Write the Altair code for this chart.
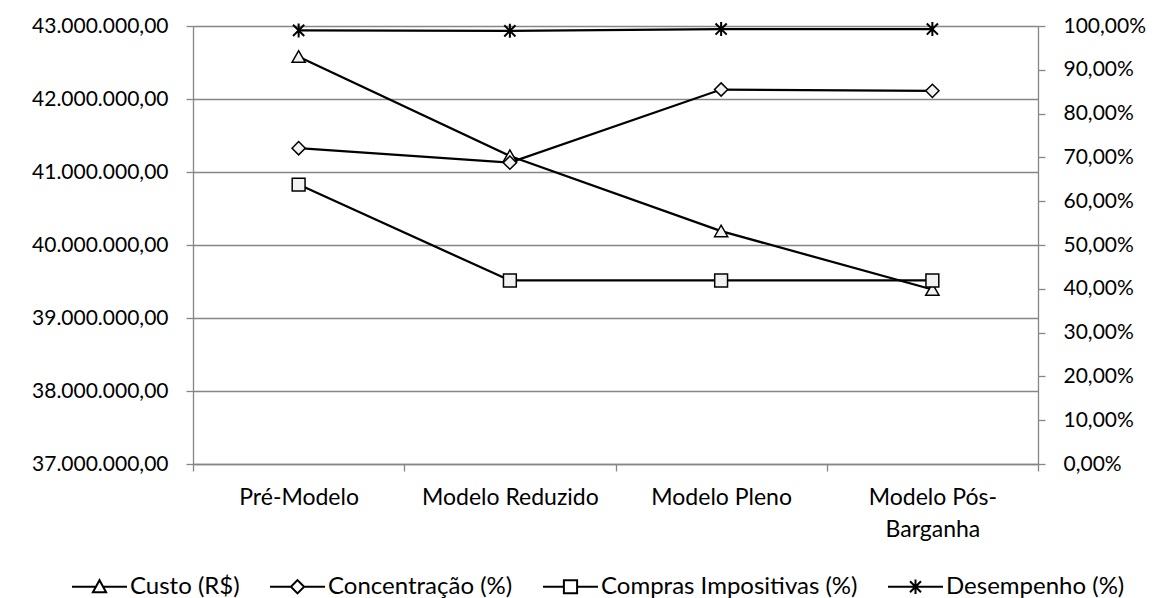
import altair as alt
import pandas as pd

# Cenários avaliados
categorias = ["Pré-Modelo", "Modelo Reduzido", "Modelo Pleno", "Modelo Pós-Barganha"]

# Custo total (R$) - eixo da esquerda
custo = [42580000, 41220000, 40190000, 39390000]

# Indicadores percentuais - eixo da direita
concentracao = [0.721, 0.688, 0.855, 0.852]
compras_impositivas = [0.638, 0.419, 0.419, 0.419]
desempenho = [0.990, 0.989, 0.993, 0.993]

series = ["Custo (R$)", "Concentração (%)", "Compras Impositivas (%)", "Desempenho (%)"]

ticks_custo = [37000000, 38000000, 39000000, 40000000, 41000000, 42000000, 43000000]
ticks_pct = [i / 10 for i in range(11)]

FONT = "Lato"
GRAY = "#868686"
FILL = "#f2f2f2"

df_custo = pd.DataFrame({"categoria": categorias, "idx": range(4), "valor": custo})
df_pct = pd.concat(
    [
        pd.DataFrame({"categoria": categorias, "idx": range(4), "serie": nome, "valor": vals})
        for nome, vals in [
            ("Concentração (%)", concentracao),
            ("Compras Impositivas (%)", compras_impositivas),
            ("Desempenho (%)", desempenho),
        ]
    ],
    ignore_index=True,
)
df_legenda = pd.DataFrame({"serie": series})

x_scale = alt.Scale(type="band", paddingInner=0, paddingOuter=0)
x_axis = alt.Axis(
    title=None,
    labelAngle=0,
    tickBand="extent",
    domain=True,
    ticks=True,
    tickSize=7,
    labelPadding=15,
    labelFontSize=23,
    labelLineHeight=32,
    labelLimit=300,
    grid=False,
    labelExpr="datum.label == 'Modelo Pós-Barganha' ? ['Modelo Pós-', 'Barganha'] : datum.label",
)


def x_enc():
    return alt.X("categoria:N", sort=categorias, scale=x_scale, bandPosition=0.5, axis=x_axis)


custo_scale = alt.Scale(domain=[37000000, 43000000], nice=False, zero=False)
custo_axis = alt.Axis(
    orient="left",
    title=None,
    values=ticks_custo,
    grid=True,
    domain=True,
    ticks=True,
    tickSize=7,
    labelPadding=18,
    labelLimit=300,
    labelExpr=(
        "replace(replace(replace(format(datum.value, ',.2f'), regexp(',', 'g'), ' '), '.', ','),"
        " regexp(' ', 'g'), '.')"
    ),
)

pct_scale = alt.Scale(domain=[0, 1], nice=False, zero=True)
pct_axis = alt.Axis(
    orient="right",
    title=None,
    values=ticks_pct,
    grid=False,
    domain=True,
    ticks=True,
    tickSize=7,
    labelPadding=18,
    labelLimit=300,
    labelExpr="replace(format(datum.value, '.2%'), '.', ',')",
)


def y_custo():
    return alt.Y("valor:Q", scale=custo_scale, axis=custo_axis)


def y_pct():
    return alt.Y("valor:Q", scale=pct_scale, axis=pct_axis)


# Marcadores
TRI = "M-1,0.85L0,-0.9L1,0.85Z"
STAR = "M-0.8,-0.8L0.8,0.8M-0.8,0.8L0.8,-0.8M0,-1V1"

linha_custo = alt.Chart(df_custo).mark_line(color="black", strokeWidth=2.25).encode(
    x=x_enc(), y=y_custo(), order="idx:Q"
)
pontos_custo = alt.Chart(df_custo).mark_point(
    shape=TRI, size=175, filled=True, fill=FILL, stroke="black", strokeWidth=1.5, opacity=1
).encode(x=x_enc(), y=y_custo())

esquerda = alt.layer(linha_custo, pontos_custo)


def pontos(nome, shape, size, sw=1.5):
    return (
        alt.Chart(df_pct)
        .transform_filter(alt.datum.serie == nome)
        .mark_point(shape=shape, size=size, filled=True, fill=FILL, stroke="black", strokeWidth=sw, opacity=1)
        .encode(x=x_enc(), y=y_pct())
    )


def linha(nome):
    return (
        alt.Chart(df_pct)
        .transform_filter(alt.datum.serie == nome)
        .mark_line(color="black", strokeWidth=2.25)
        .encode(x=x_enc(), y=y_pct(), order="idx:Q")
    )


direita = alt.layer(
    linha("Concentração (%)"),
    pontos("Concentração (%)", "diamond", 175),
    linha("Compras Impositivas (%)"),
    pontos("Compras Impositivas (%)", "square", 165),
    linha("Desempenho (%)"),
    pontos("Desempenho (%)", STAR, 196, 2),
)

# Símbolos da legenda: linha com marcador ao centro
LEG_PATHS = [
    "M-1,0H-0.13M0.13,0H1M-0.24,0.2L0,-0.24L0.24,0.2Z",
    "M-1,0H-0.24M0.24,0H1M-0.24,0L0,-0.24L0.24,0L0,0.24Z",
    "M-1,0H-0.24M0.24,0H1M-0.24,-0.24H0.24V0.24H-0.24Z",
    "M-1,0H1M-0.2,-0.2L0.2,0.2M-0.2,0.2L0.2,-0.2M0,-0.26V0.26",
]

legenda = alt.Chart(df_legenda).mark_point(opacity=0, size=3025).encode(
    shape=alt.Shape(
        "serie:N",
        sort=series,
        scale=alt.Scale(domain=series, range=LEG_PATHS),
        legend=alt.Legend(
            title=None,
            orient="none",
            direction="horizontal",
            columns=4,
            legendX=-122,
            legendY=532,
            padding=0,
            symbolSize=3025,
            symbolOpacity=1,
            symbolFillColor=FILL,
            symbolStrokeColor="black",
            symbolStrokeWidth=2,
            labelFont=FONT,
            labelFontSize=24,
            labelColor="black",
            labelOffset=2,
            labelLimit=400,
            columnPadding=26,
        ),
    )
)

chart = (
    alt.layer(esquerda, direita, legenda)
    .resolve_scale(y="independent")
    .properties(
        width=845,
        height=438,
        autosize=alt.AutoSizeParams(type="none"),
        padding={"left": 193, "top": 26, "right": 121, "bottom": 134},
        background="white",
    )
    .configure_view(stroke=None)
    .configure_axis(
        labelFont=FONT,
        labelFontSize=21,
        labelColor="black",
        domainColor=GRAY,
        tickColor=GRAY,
        gridColor=GRAY,
        domainWidth=1.3,
        tickWidth=1.3,
        gridWidth=1.3,
    )
)

chart.save("out.html", embed_options={"renderer": "svg", "actions": False})
